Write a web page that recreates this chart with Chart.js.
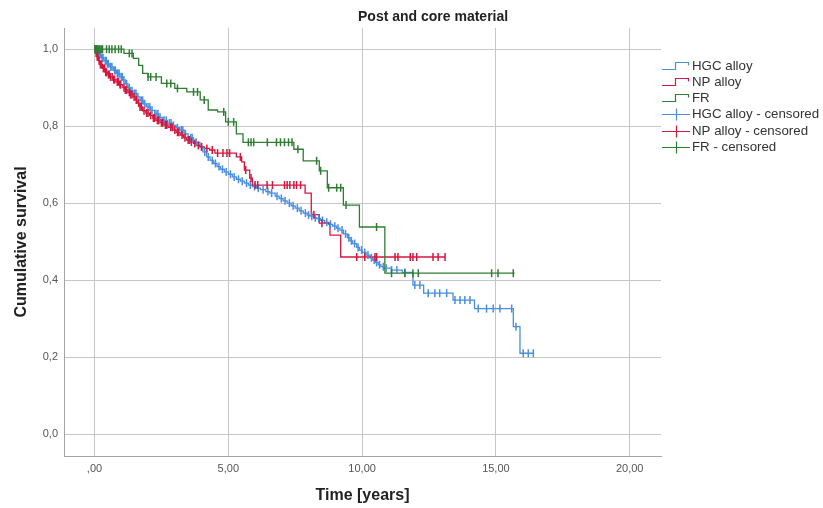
<!DOCTYPE html>
<html><head><meta charset="utf-8">
<script src="https://cdn.jsdelivr.net/npm/chart.js@4"></script>
<style>html,body{margin:0;padding:0;background:#fff}#wrap{width:823px;height:508px;position:relative}</style>
</head><body><div id="wrap"><canvas id="c" width="823" height="508"></canvas></div>
<script>
const chartTitle = 'Post and core material';
const xTitle = 'Time [years]';
const yTitle = 'Cumulative survival';
const seriesNames = ['HGC alloy', 'NP alloy', 'FR'];
const censoredNames = ['HGC alloy - censored', 'NP alloy - censored', 'FR - censored'];
const xTickValues = [0, 5, 10, 15, 20];
const xTickLabels = [',00', '5,00', '10,00', '15,00', '20,00'];
const yTickValues = [0, 0.2, 0.4, 0.6, 0.8, 1.0];
const yTickLabels = ['0,0', '0,2', '0,4', '0,6', '0,8', '1,0'];

const hgcTime = [
  0, 0.08, 0.15, 0.25, 0.35, 0.45, 0.57, 0.7, 0.82, 0.95,
  1.06, 1.15, 1.25, 1.35, 1.44, 1.57, 1.7, 1.82, 1.94, 2.1,
  2.25, 2.4, 2.56, 2.73, 2.9, 3.05, 3.19, 3.35, 3.5, 3.7,
  3.94, 4.05, 4.19, 4.32, 4.45, 4.58, 4.7, 4.85, 5.0, 5.15,
  5.3, 5.45, 5.6, 5.75, 5.9, 6.05, 6.2, 6.4, 6.55, 6.75,
  6.9, 7.05, 7.2, 7.35, 7.5, 7.65, 7.8, 7.95, 8.05, 8.2,
  8.3, 8.45, 8.6, 8.75, 8.9, 9.05, 9.17, 9.3, 9.45, 9.55,
  9.65, 9.8, 9.9, 10.0, 10.15, 10.3, 10.4, 10.5, 10.6, 10.7,
  10.8, 11.1, 11.5, 11.9, 12.3, 13.4, 14.2, 15.65, 15.9, 16.4];
const hgcSurv = [
  1.0, 0.993, 0.986, 0.978, 0.97, 0.962, 0.954, 0.945, 0.937, 0.928,
  0.92, 0.91, 0.9, 0.892, 0.885, 0.876, 0.867, 0.858, 0.85, 0.841,
  0.832, 0.823, 0.815, 0.808, 0.802, 0.796, 0.79, 0.78, 0.77, 0.758,
  0.746, 0.733, 0.72, 0.711, 0.703, 0.695, 0.688, 0.681, 0.675, 0.668,
  0.662, 0.657, 0.652, 0.647, 0.643, 0.639, 0.635, 0.63, 0.626, 0.618,
  0.612, 0.606, 0.6, 0.593, 0.587, 0.58, 0.574, 0.569, 0.566, 0.562,
  0.56, 0.555, 0.55, 0.545, 0.54, 0.535, 0.53, 0.52, 0.51, 0.502,
  0.495, 0.485, 0.478, 0.472, 0.465, 0.458, 0.452, 0.446, 0.44, 0.435,
  0.431, 0.426, 0.42, 0.387, 0.366, 0.348, 0.326, 0.279, 0.21, 0.21];
const hgcCensored = [
  0.02, 0.05, 0.09, 0.12, 0.18, 0.22, 0.28, 0.32, 0.4, 0.44, 0.48, 0.52, 0.6, 0.65, 0.75, 0.78,
  0.85, 0.88, 0.92, 1.0, 1.04, 1.1, 1.2, 1.3, 1.4, 1.5, 1.55, 1.62, 1.75, 1.8, 1.88, 2.0, 2.07,
  2.15, 2.3, 2.37, 2.45, 2.6, 2.68, 2.8, 2.86, 2.95, 3.1, 3.25, 3.3, 3.4, 3.6, 3.65, 3.8, 4.0,
  4.12, 4.25, 4.4, 4.52, 4.65, 4.78, 4.92, 5.08, 5.22, 5.38, 5.52, 5.68, 5.82, 5.98, 6.12, 6.3,
  6.48, 6.62, 6.82, 6.98, 7.12, 7.28, 7.42, 7.58, 7.72, 7.88, 8.0, 8.12, 8.25, 8.38, 8.52, 8.68,
  8.82, 8.98, 9.1, 9.25, 9.38, 9.5, 9.6, 9.72, 9.85, 9.98, 10.1, 10.22, 10.35, 10.45, 10.54, 10.65,
  10.79, 10.9, 11.1, 11.3, 11.6, 11.97, 12.16, 12.47, 12.72, 12.9, 13.16, 13.47, 13.66, 13.84, 14.03,
  14.34, 14.65, 14.9, 15.15, 15.59, 15.75, 16.02, 16.21, 16.4];

const npTime = [
  0, 0.05, 0.1, 0.15, 0.2, 0.3, 0.4, 0.5, 0.57, 0.7,
  0.8, 0.93, 1.06, 1.15, 1.25, 1.35, 1.44, 1.52, 1.6, 1.7,
  1.8, 1.92, 2.05, 2.18, 2.3, 2.45, 2.6, 2.75, 2.93, 3.05,
  3.2, 3.32, 3.44, 3.57, 3.7, 3.82, 3.94, 4.1, 4.3, 4.5,
  5.3, 5.5, 5.6, 5.8, 5.9, 7.87, 8.1, 8.4, 8.8, 9.2,
  13.1];
const npSurv = [
  1.0, 0.99, 0.98, 0.97, 0.96, 0.95, 0.94, 0.934, 0.928, 0.921,
  0.915, 0.908, 0.9, 0.894, 0.888, 0.882, 0.876, 0.868, 0.86, 0.85,
  0.84, 0.834, 0.828, 0.821, 0.815, 0.809, 0.803, 0.797, 0.79, 0.784,
  0.777, 0.77, 0.764, 0.759, 0.755, 0.75, 0.746, 0.742, 0.738, 0.73,
  0.72, 0.707, 0.686, 0.665, 0.647, 0.626, 0.57, 0.548, 0.517, 0.46,
  0.46];
const npCensored = [
  0.03, 0.06, 0.1, 0.13, 0.17, 0.22, 0.27, 0.33, 0.38, 0.42, 0.45, 0.52, 0.55, 0.6, 0.66, 0.72,
  0.75, 0.85, 0.9, 0.95, 0.98, 1.1, 1.15, 1.2, 1.3, 1.35, 1.4, 1.48, 1.56, 1.65, 1.7, 1.75, 1.85,
  1.95, 2.0, 2.1, 2.2, 2.25, 2.35, 2.4, 2.5, 2.55, 2.65, 2.7, 2.85, 2.9, 3.0, 3.1, 3.15, 3.27,
  3.38, 3.5, 3.55, 3.62, 3.75, 3.88, 4.0, 4.2, 4.4, 4.6, 4.8, 4.95, 5.05, 5.45, 5.65, 5.85,
  6.0, 6.1, 6.45, 6.65, 7.1, 7.2, 7.3, 7.45, 7.55, 7.7, 8.2, 8.5, 9.8, 10.1, 10.48, 10.54,
  11.23, 11.34, 11.8, 11.9, 12.04, 12.65, 12.84, 13.1];

const frTime = [0, 1.1, 1.45, 1.65, 1.8, 2.0, 2.5, 3.0, 3.45, 3.95, 4.25, 4.6,
  4.9, 5.3, 5.55, 7.45, 7.8, 8.4, 8.7, 9.3, 9.9, 10.85, 15.7];
const frSurv = [1.0, 0.989, 0.976, 0.958, 0.937, 0.928, 0.911, 0.898, 0.889, 0.868, 0.842, 0.837,
  0.811, 0.78, 0.758, 0.74, 0.71, 0.684, 0.64, 0.595, 0.538, 0.418, 0.418];
const frCensored = [
  0.02, 0.04, 0.07, 0.1, 0.13, 0.17, 0.2, 0.25, 0.3, 0.45, 0.55, 0.65, 0.77, 0.9, 1.0, 1.3,
  1.4, 2.0, 2.1, 2.3, 2.7, 2.85, 3.1, 3.7, 3.85, 4.1, 4.83, 5.0, 5.2, 5.75, 5.85,
  5.95, 6.46, 6.8, 6.95, 7.1, 7.25, 7.38, 7.6, 8.3, 8.45, 8.75, 9.05, 9.2, 9.4, 10.54,
  11.1, 11.6, 11.9, 12.1, 14.84, 15.08, 15.65];

const colors = ['#4a8ede', '#d3173f', '#2e7d32'];
const FONT = 'Arial, "Liberation Sans", sans-serif';

function curve(times, surv) { return times.map((t, i) => ({x: t, y: surv[i]})); }
function survAt(times, surv, t) {
  let s = surv[0];
  for (let i = 0; i < times.length; i++) { if (times[i] <= t) s = surv[i]; else break; }
  return s;
}
function marks(cens, times, surv) { return cens.map(t => ({x: t, y: survAt(times, surv, t)})); }

const curves = [curve(hgcTime, hgcSurv), curve(npTime, npSurv), curve(frTime, frSurv)];
const censMarks = [marks(hgcCensored, hgcTime, hgcSurv), marks(npCensored, npTime, npSurv), marks(frCensored, frTime, frSurv)];

const datasets = [];
curves.forEach((d, i) => datasets.push({
  type: 'line', label: seriesNames[i], data: d, stepped: 'before', borderColor: colors[i],
  borderWidth: 1.3, pointRadius: 0, fill: false, order: 6 - i
}));
censMarks.forEach((d, i) => datasets.push({
  type: 'scatter', label: censoredNames[i], data: d, showLine: false, pointStyle: 'line', rotation: 90,
  pointRadius: 4, borderColor: colors[i], backgroundColor: colors[i], pointBorderWidth: 1.5, borderWidth: 1.5,
  order: 3 - i
}));

const titleLegendPlugin = {
  id: 'titleLegend',
  afterDraw(chart) {
    const ctx = chart.ctx;
    ctx.save();
    ctx.fillStyle = '#222';
    ctx.font = 'bold 14px ' + FONT;
    ctx.textAlign = 'left';
    ctx.textBaseline = 'alphabetic';
    ctx.fillText(chartTitle, 358, 21);
    const names = seriesNames.concat(censoredNames);
    ctx.font = '13.3px ' + FONT;
    ctx.textBaseline = 'middle';
    names.forEach((name, i) => {
      const y = Math.round(65.7 + i * 16.2) + 0.5;
      const c = colors[i % 3];
      ctx.strokeStyle = c;
      ctx.lineWidth = 1.2;
      ctx.beginPath();
      if (i < 3) {
        ctx.moveTo(662, y + 3); ctx.lineTo(675.5, y + 3); ctx.lineTo(675.5, y - 4);
        ctx.lineTo(688.5, y - 4); ctx.lineTo(688.5, y - 1);
      } else {
        ctx.moveTo(662, y); ctx.lineTo(690, y);
        ctx.moveTo(676.5, y - 6); ctx.lineTo(676.5, y + 6);
      }
      ctx.stroke();
      ctx.fillStyle = '#333';
      ctx.fillText(name, 692, y);
    });
    ctx.restore();
  }
};

new Chart(document.getElementById('c'), {
  data: {datasets},
  options: {
    responsive: false, animation: false, events: [], devicePixelRatio: 1,
    layout: {padding: {top: 28, right: 162, left: 0, bottom: 0}},
    plugins: {legend: {display: false}, title: {display: false}, tooltip: {enabled: false}},
    scales: {
      x: {
        type: 'linear', min: -1.14, max: 21.17,
        afterBuildTicks: s => { s.ticks = xTickValues.map(v => ({value: v})); },
        afterFit: s => { s.height = 52; },
        ticks: {
          callback: (v) => { const k = xTickValues.indexOf(v); return k >= 0 ? xTickLabels[k] : ''; },
          font: {size: 11, family: FONT}, color: '#555', padding: 6, maxRotation: 0, autoSkip: false
        },
        grid: {color: '#c6c6c6', lineWidth: 1, drawTicks: false},
        border: {color: '#a4a4a4', width: 1},
        title: {display: true, text: xTitle, font: {size: 16, weight: 'bold', family: FONT}, color: '#222', padding: {top: 0, bottom: 3}}
      },
      y: {
        type: 'linear', min: -0.057, max: 1.055,
        afterBuildTicks: s => { s.ticks = yTickValues.map(v => ({value: v})); },
        afterFit: s => { s.width = 64; },
        ticks: {
          callback: (v) => { const k = yTickValues.findIndex(t => Math.abs(t - v) < 1e-9); return k >= 0 ? yTickLabels[k] : ''; },
          font: {size: 11, family: FONT}, color: '#555', padding: 6, autoSkip: false
        },
        grid: {color: '#c6c6c6', lineWidth: 1, drawTicks: false},
        border: {color: '#a4a4a4', width: 1},
        title: {display: true, text: yTitle, font: {size: 16, weight: 'bold', family: FONT}, color: '#222', padding: {top: 12, bottom: 0}}
      }
    }
  },
  plugins: [titleLegendPlugin]
});
</script>
</body></html>
